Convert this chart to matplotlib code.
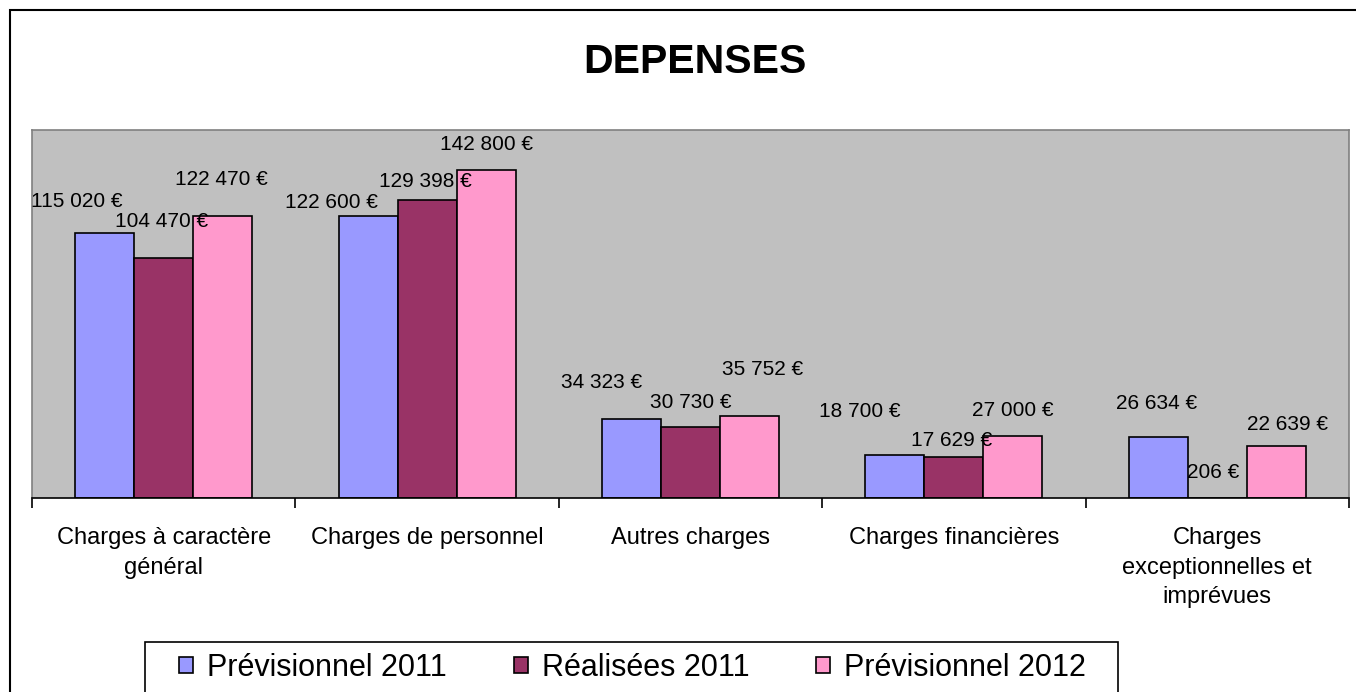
import matplotlib
matplotlib.use("Agg")
import matplotlib.pyplot as plt
from matplotlib.patches import Rectangle, Patch
import numpy as np

plt.rcParams['font.family'] = ['Liberation Sans', 'DejaVu Sans']

categories = ["Charges à caractère\ngénéral", "Charges de personnel", "Autres charges",
              "Charges financières", "Charges\nexceptionnelles et\nimprévues"]
series_names = ["Prévisionnel 2011", "Réalisées 2011", "Prévisionnel 2012"]
prev_2011 = [115020, 122600, 34323, 18700, 26634]
real_2011 = [104470, 129398, 30730, 17629, 206]
prev_2012 = [122470, 142800, 35752, 27000, 22639]
colors = ["#9999FF", "#993366", "#FF99CC"]

# label offsets in pixels (dx, dy) from bar top centre, to mimic reference placement
label_offsets = [
    [(-28, 32), (-37, 14), (-30, 37), (-35, 43), (-2, 33)],
    [(-2, 36), (-2, 19), (0, 25), (-2, 17), (-4, 25)],
    [(-1, 37), (0, 25), (13, 46), (0, 25), (11, 21)],
]

def fmt(v):
    return f"{v:,}".replace(",", " ") + " €"

W, H = 1356, 692
fig = plt.figure(figsize=(W / 100, H / 100), dpi=100)

# outer chart border
fig.patches.append(Rectangle((10 / W, -0.1), 1.2, 1 - 10 / H + 0.1, transform=fig.transFigure,
                             fill=False, edgecolor="black", linewidth=1.5))

ax = fig.add_axes([32 / W, 1 - 498 / H, (1349 - 32) / W, (498 - 130) / H])
ax.set_facecolor("#C0C0C0")
ax.set_ylim(0, 160000)
ax.set_xlim(-0.5, len(categories) - 0.5)

x = np.arange(len(categories))
w = 0.224
all_series = [prev_2011, real_2011, prev_2012]
for s, (vals, col) in enumerate(zip(all_series, colors)):
    xs = x + (s - 1) * w
    ax.bar(xs, vals, width=w, color=col, edgecolor="black", linewidth=1.2,
           label=series_names[s], zorder=2)
    for i, v in enumerate(vals):
        dx, dy = label_offsets[s][i]
        ax.annotate(fmt(v), (xs[i], v), xytext=(dx, dy), textcoords="offset pixels",
                    ha="center", va="center", fontsize=15, zorder=3)

for sp in ["left", "right", "top"]:
    ax.spines[sp].set_color("#808080")
    ax.spines[sp].set_linewidth(1.2)
ax.spines["bottom"].set_color("black")
ax.spines["bottom"].set_linewidth(1.2)
ax.set_yticks([])
ax.set_xticks(np.arange(-0.5, len(categories), 1.0))
ax.set_xticklabels([])
ax.tick_params(axis="x", length=7, width=1.2, color="black")
ax.set_xticks(x, minor=True)
ax.set_xticklabels(categories, minor=True, fontsize=17, linespacing=1.45)
ax.tick_params(axis="x", which="minor", length=0, pad=21)

fig.text(695 / W, 1 - 62 / H, "DEPENSES", ha="center", va="center",
         fontsize=29.5, fontweight="bold")

# legend frame (bottom runs off the figure, as in the reference)
fig.patches.append(Rectangle((145 / W, -0.1), (1118 - 145) / W, 1 - 642 / H + 0.1,
                             transform=fig.transFigure, fill=True, facecolor="white",
                             edgecolor="black", linewidth=1.2))
handles = [Patch(facecolor=c, edgecolor="black", linewidth=1.2) for c in colors]
leg = fig.legend(handles, series_names, ncol=3, loc="center left",
                 bbox_to_anchor=(179 / W, 1 - 668 / H), fontsize=22,
                 frameon=False, handlelength=0.46, handleheight=0.46, handletextpad=0.45,
                 columnspacing=2.2, borderpad=0, borderaxespad=0)

fig.savefig("out.png", dpi=100)
